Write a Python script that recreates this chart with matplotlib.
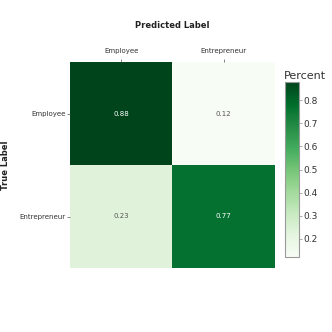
import numpy as np
import matplotlib
matplotlib.use("Agg")
import matplotlib.pyplot as plt
from matplotlib.colors import Normalize

labels = ["Employee", "Entrepreneur"]
cm = np.array([[0.88, 0.12],
               [0.23, 0.77]])

W = H = 332
fig = plt.figure(figsize=(W / 100, H / 100), dpi=100)

def box(x0, y0, x1, y1):
    return [x0 / W, 1 - y1 / H, (x1 - x0) / W, (y1 - y0) / H]

ax = fig.add_axes(box(70, 62, 275, 268))
norm = Normalize(vmin=cm.min(), vmax=cm.max())
im = ax.imshow(cm, cmap="Greens", norm=norm, aspect="auto")

for i in range(2):
    for j in range(2):
        c = "white" if cm[i, j] > 0.5 else "#555555"
        ax.text(j, i, "%.2f" % cm[i, j], ha="center", va="center",
                fontsize=5, color=c)

ax.set_xticks(range(2))
ax.set_yticks(range(2))
ax.set_xticklabels(labels, fontsize=5, color="#333333")
ax.set_yticklabels(labels, fontsize=5, color="#333333")
ax.xaxis.tick_top()
ax.tick_params(axis="x", length=2, width=0.5, pad=4, color="#555555")
ax.tick_params(axis="y", length=2, width=0.5, pad=1, color="#555555")
for s in ax.spines.values():
    s.set_visible(False)

fig.text(172 / W, 1 - 26 / H, "Predicted Label", ha="center", va="center",
         fontsize=6, fontweight="bold", color="#222222")
fig.text(6 / W, 1 - 165 / H, "True Label", ha="center", va="center",
         rotation=90, fontsize=6, fontweight="bold", color="#222222")

cax = fig.add_axes(box(285, 82, 299, 257))
cb = fig.colorbar(im, cax=cax)
cb.set_ticks([0.2, 0.3, 0.4, 0.5, 0.6, 0.7, 0.8])
cb.ax.tick_params(labelsize=6.5, length=2, width=0.5, pad=1, color="#888888",
                  labelcolor="#333333")
cb.outline.set_edgecolor("#999999")
cb.outline.set_linewidth(0.8)
fig.text(284 / W, 1 - 76 / H, "Percent", ha="left", va="center",
         fontsize=8, color="#333333")

fig.savefig("out.png", dpi=100)
